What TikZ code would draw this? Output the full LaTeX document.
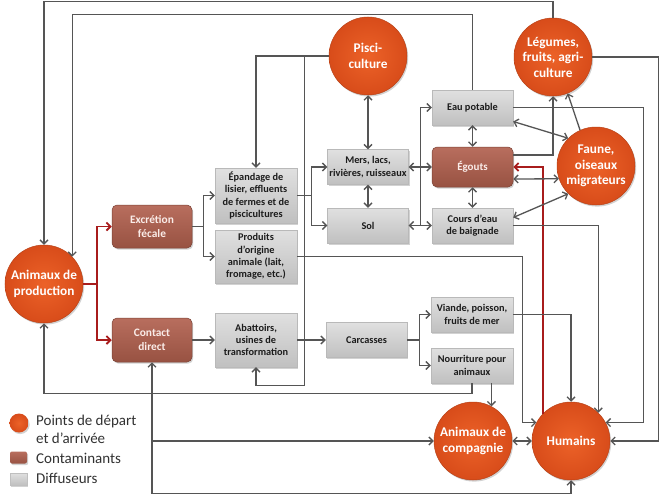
\documentclass[tikz,border=0pt]{standalone}
\usepackage{fontspec}
\setmainfont{Carlito}
\usetikzlibrary{arrows.meta,calc,shadows}
\definecolor{lineg}{RGB}{85,85,85}
\definecolor{redl}{RGB}{168,28,28}
\definecolor{orin}{RGB}{236,98,40}
\definecolor{orout}{RGB}{216,76,26}
\definecolor{brtop}{RGB}{184,110,94}
\definecolor{brbot}{RGB}{152,82,66}
\definecolor{grtop}{RGB}{224,224,224}
\definecolor{grbot}{RGB}{192,192,192}
\definecolor{txtd}{RGB}{28,28,28}
\definecolor{legt}{RGB}{50,50,50}
\begin{document}
\begin{tikzpicture}[x=1pt,y=-1pt,
  >={Straight Barb[length=4pt,width=8pt]},
  conn/.style={draw=lineg, line width=1.3pt},
  redc/.style={draw=redl, line width=1.8pt},
  shd/.style={drop shadow={opacity=0.35, shadow xshift=1.2pt, shadow yshift=-1.6pt}},
  circ/.style={circle, minimum size=78pt, inner sep=0pt, shading=radial,
    inner color=orin, outer color=orout, draw=orout!85!black, line width=0.5pt,
    text=white, font=\fontsize{13.3}{15.5}\selectfont\bfseries, align=center, shd},
  brbox/.style={rectangle, rounded corners=5pt, minimum width=80pt, minimum height=43pt,
    top color=brtop, bottom color=brbot, draw=brbot!80!black, line width=0.5pt,
    text={rgb,255:red,250;green,236;blue,232}, font=\fontsize{11.4}{14}\selectfont\bfseries,
    align=center, inner sep=1pt, shd},
  grbox/.style={rectangle, minimum width=81pt, minimum height=35pt,
    top color=grtop, bottom color=grbot, draw=gray!55, line width=0.4pt,
    text=txtd, font=\fontsize{10.3}{12.3}\selectfont\bfseries, align=center,
    inner sep=1pt, shd},
  legtxt/.style={anchor=west, align=left, text=legt, font=\fontsize{15}{18}\selectfont, inner sep=0pt}
]
\fill[white] (0,0) rectangle (660,495);
\useasboundingbox (0,0) rectangle (660,495);

% circles
\node[circ] (prod) at (44,284) {Animaux de\\production};
\node[circ] (pisci) at (368,56) {Pisci-\\culture};
\node[circ] (legumes) at (553,57) {Légumes,\\fruits, agri-\\culture};
\node[circ] (faune) at (596,166) {Faune,\\oiseaux\\migrateurs};
\node[circ] (compagnie) at (473,441) {Animaux de\\compagnie};
\node[circ] (humains) at (571,441) {Humains};

% boxes
\node[brbox] (excretion) at (152,226.5) {Excrétion\\fécale};
\node[brbox, minimum height=44pt] (contact) at (152,340) {Contact\\direct};
\node[grbox, minimum width=82pt, minimum height=55pt] (epandage) at (256,195.5) {Épandage de\\lisier, effluents\\de fermes et de\\piscicultures};
\node[grbox, minimum width=82pt, minimum height=53pt] (produits) at (256,256.5) {Produits\\d’origine\\animale (lait,\\fromage, etc.)};
\node[grbox, minimum width=82pt, minimum height=54pt] (abattoirs) at (256,340) {Abattoirs,\\usines de\\transformation};
\node[grbox] (mers) at (368,167) {Mers, lacs,\\rivières, ruisseaux};
\node[grbox] (sol) at (368,225.5) {Sol};
\node[grbox] (eau) at (472.5,107.5) {Eau potable};
\node[brbox, minimum width=81pt, minimum height=40pt, font=\fontsize{11}{13}\selectfont\bfseries] (egouts) at (472.5,167) {Égouts};
\node[grbox] (cours) at (472.5,225.5) {Cours d’eau\\de baignade};
\node[grbox] (carcasses) at (366.5,340) {Carcasses};
\node[grbox, minimum width=82pt] (viande) at (472,314.5) {Viande, poisson,\\fruits de mer};
\node[grbox, minimum width=82pt] (nourriture) at (472,365.5) {Nourriture pour\\animaux};

% legend
\node[circle, minimum size=19pt, inner sep=0pt, shading=radial, inner color=orin, outer color=orout, shd] (lgc) at (19,423) {};
\node[legtxt] (lgt1) at (36,429) {Points de départ\\et d’arrivée};
\node[rectangle, rounded corners=2pt, minimum width=17pt, minimum height=12pt, inner sep=0pt, top color=brtop, bottom color=brbot, shd] (lgb) at (18.5,457.5) {};
\node[legtxt] (lgt2) at (36,458) {Contaminants};
\node[rectangle, minimum width=17pt, minimum height=12pt, inner sep=0pt, top color=grtop, bottom color=grbot, draw=gray!50, line width=0.3pt, shd] (lgg) at (18.5,479) {};
\node[legtxt] (lgt3) at (36,478) {Diffuseurs};

% red connectors
\draw[redc,->] (prod.east) -- ++(14,0) |- (excretion.west);
\draw[redc,->] (prod.east) ++(14,0) |- (contact.west);
\draw[redc,->] (humains.136) |- (egouts.east);

% grey connectors
\draw[conn,->] (excretion.east) -- ++(11,0) |- (epandage.west);
\draw[conn,->] (excretion.east) ++(11,0) |- (produits.west);
\draw[conn,->] (epandage.east) -- ++(14,0) |- (mers.west);
\draw[conn,->] (epandage.east) ++(14,0) |- (sol.west);
\draw[conn,->] (contact.east) -- (abattoirs.west);
\draw[conn,->] (abattoirs.east) -- (carcasses.west);
\draw[conn,->] (carcasses.east) -- ++(12,0) |- (viande.west);
\draw[conn,->] (carcasses.east) ++(12,0) |- (nourriture.west);

\draw[conn,->] (pisci.west) -| (epandage.north);
\draw[conn,->] (pisci.west) ++(-24,0) |- ($(abattoirs.south)+(0,18)$) -- (abattoirs.south);
\draw[conn,->] (produits.east) -| ($(humains.152)+(-14,0)$) -- (humains.152);

\draw[conn,<->] (pisci.south) -- (mers.north);
\draw[conn,<->] (mers.south) -- (sol.north);
\draw[conn,<->] (mers.east) -- (egouts.west);
\draw[conn,<->] (sol.east) -- (cours.west);
\draw[conn,->] ($(sol.east)!0.5!(cours.west)$) |- (eau.west);
\draw[conn,<->] (eau.south) -- (egouts.north);
\draw[conn,<->] (egouts.south) -- (cours.north);

\draw[conn,->] (eau.north) |- ($(prod.44)+(0,-242)$) -- (prod.44);
\draw[conn,->] (legumes.north) |- ($(prod.north)+(0,-243)$) -- (prod.north);
\draw[conn,->] (legumes.east) -| ($(humains.east)+(48,0)$) -- (humains.east);
\draw[conn,->] (eau.east) -| ($(humains.28)+(38,0)$) -- (humains.28);
\draw[conn,->] (cours.east) -| (humains.46);
\draw[conn,->] (viande.east) -| (humains.north);

\draw[conn,->] ($(egouts.east)+(0,-12)$) -| (legumes.south);
\draw[conn,<->] ($(egouts.east)+(0,12)$) -- (faune.199);
\draw[conn,<->] ($(eau.east)+(0,14)$) -- (faune.135);
\draw[conn,<->] ($(cours.east)+(0,-8)$) -- (faune.225);
\draw[conn,->] (faune.114) -- (legumes.292);

\draw[conn,->] (nourriture.south -| compagnie.62) -- (compagnie.62);
\draw[conn,->] (nourriture.south) -- ++(0,10) -| (prod.south);

\draw[conn,<->] (contact.south) |- ($(humains.south)+(0,13)$) -- (humains.south);
\draw[conn,->] (contact.south |- compagnie.west) -- (compagnie.west);
\draw[conn,<->] (compagnie.east) -- (humains.west);
\end{tikzpicture}
\end{document}
